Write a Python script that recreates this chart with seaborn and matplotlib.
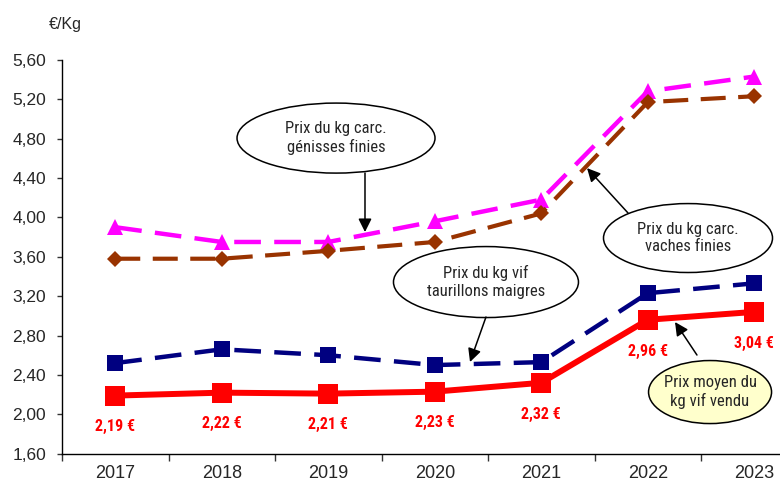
import numpy as np
import pandas as pd
import matplotlib
matplotlib.use("Agg")
import matplotlib.pyplot as plt
from matplotlib.patches import Ellipse
from matplotlib import font_manager
import seaborn as sns

# ---- data -------------------------------------------------------------
years = ["2017", "2018", "2019", "2020", "2021", "2022", "2023"]
genisses_finies = [3.90, 3.75, 3.75, 3.96, 4.18, 5.28, 5.43]
vaches_finies = [3.58, 3.58, 3.66, 3.75, 4.04, 5.17, 5.23]
taurillons_maigres = [2.52, 2.66, 2.60, 2.50, 2.53, 3.23, 3.33]
prix_moyen_vendu = [2.19, 2.22, 2.21, 2.23, 2.32, 2.96, 3.04]
prix_labels = ["2,19 €", "2,22 €", "2,21 €", "2,23 €", "2,32 €", "2,96 €", "3,04 €"]
y_ticks = [1.60, 2.00, 2.40, 2.80, 3.20, 3.60, 4.00, 4.40, 4.80, 5.20, 5.60]
y_tick_labels = ["1,60", "2,00", "2,40", "2,80", "3,20", "3,60", "4,00",
                 "4,40", "4,80", "5,20", "5,60"]

# ---- fonts ------------------------------------------------------------
installed = {f.name for f in font_manager.fontManager.ttflist}


def pick(*names):
    for n in names:
        if n in installed:
            return n
    return "DejaVu Sans"


REG = pick("Liberation Sans", "Arial", "DejaVu Sans")
NARROW = pick("Liberation Sans Narrow", "Arial Narrow", "Roboto Condensed", REG)

sns.set_style("ticks")
plt.rcParams["font.family"] = [REG, "DejaVu Sans"]

fig = plt.figure(figsize=(7.8, 4.82), dpi=100)
ax = fig.add_axes([62 / 780, 28.3 / 482, 745.5 / 780, 393.9 / 482])

x = np.arange(len(years))
df = pd.DataFrame({
    "x": x,
    "gen": genisses_finies,
    "vac": vaches_finies,
    "tau": taurillons_maigres,
    "moy": prix_moyen_vendu,
})

dash = (0, (6, 3))
sns.lineplot(data=df, x="x", y="gen", ax=ax, color="#FF00FF", lw=3.2,
             linestyle=dash, marker="^", markersize=11, markeredgewidth=0,
             errorbar=None, zorder=3)
sns.lineplot(data=df, x="x", y="vac", ax=ax, color="#993300", lw=3.0,
             linestyle=dash, marker="D", markersize=7.8, markeredgewidth=0,
             errorbar=None, zorder=3)
sns.lineplot(data=df, x="x", y="tau", ax=ax, color="#000080", lw=3.2,
             linestyle=dash, marker="s", markersize=11, markeredgewidth=0,
             errorbar=None, zorder=3)
sns.lineplot(data=df, x="x", y="moy", ax=ax, color="#FF0000", lw=4.3,
             linestyle="-", marker="s", markersize=14, markeredgewidth=0,
             errorbar=None, zorder=4)

# value labels under the sold-price line
for xi, yi, lab in zip(x, prix_moyen_vendu, prix_labels):
    ax.annotate(lab, (xi, yi), xytext=(0, -22.5), textcoords="offset points",
                ha="center", va="center", color="#FF0000", fontsize=11.5,
                fontweight="bold", family=[NARROW, "DejaVu Sans"])

# ---- axes -------------------------------------------------------------
ax.set_xlim(-0.5, len(years) - 0.5)
ax.set_ylim(1.60, 5.60)
ax.set_yticks(y_ticks)
ax.set_yticklabels(y_tick_labels, fontsize=12.5)
ax.set_xticks(x)
ax.set_xticklabels(years, fontsize=13)
ax.set_xticks(np.arange(-0.5, len(years), 1.0), minor=True)
ax.tick_params(axis="x", which="major", length=0, pad=8)
ax.tick_params(axis="x", which="minor", length=5, width=1, direction="out",
               color="#333333")
ax.tick_params(axis="y", length=3.6, width=1, direction="out", pad=8,
               color="#333333")
ax.set_xlabel("")
ax.set_ylabel("")
for s in ("top", "right"):
    ax.spines[s].set_visible(False)
for s in ("left", "bottom"):
    ax.spines[s].set_color("black")
    ax.spines[s].set_linewidth(1.0)

fig.text(65 / 780, 1 - 25 / 482, "€/Kg", ha="center", va="center",
         fontsize=11.5)

# ---- callouts ---------------------------------------------------------
callouts = [
    # text, centre, width, height, arrow start, arrow end, fill
    ("Prix du kg carc.\ngénisses finies", (2.073, 4.805), 1.859, 0.711,
     (2.345, 4.450), (2.345, 3.851), "white"),
    ("Prix du kg carc.\nvaches finies", (5.378, 3.790), 1.587, 0.700,
     (4.815, 4.044), (4.430, 4.500), "white"),
    ("Prix du kg vif\ntaurillons maigres", (3.481, 3.343), 1.737, 0.721,
     (3.481, 2.988), (3.331, 2.531), "white"),
    ("Prix moyen du\nkg vif vendu", (5.585, 2.226), 1.155, 0.640,
     (5.462, 2.602), (5.256, 2.937), "#FFFFCC"),
]
for text, c, w, h, a0, a1, fc in callouts:
    ax.add_patch(Ellipse(c, w, h, facecolor=fc, edgecolor="black", lw=1.1,
                         zorder=5, clip_on=False))
    ax.text(c[0], c[1], text, ha="center", va="center", fontsize=12,
            family=[NARROW, "DejaVu Sans"], zorder=6, linespacing=1.2)
    ax.annotate("", xy=a1, xytext=a0,
                arrowprops=dict(arrowstyle="-|>", color="black", lw=1.1,
                                mutation_scale=20, shrinkA=0, shrinkB=0),
                zorder=6)

fig.savefig("out.png", dpi=100)
